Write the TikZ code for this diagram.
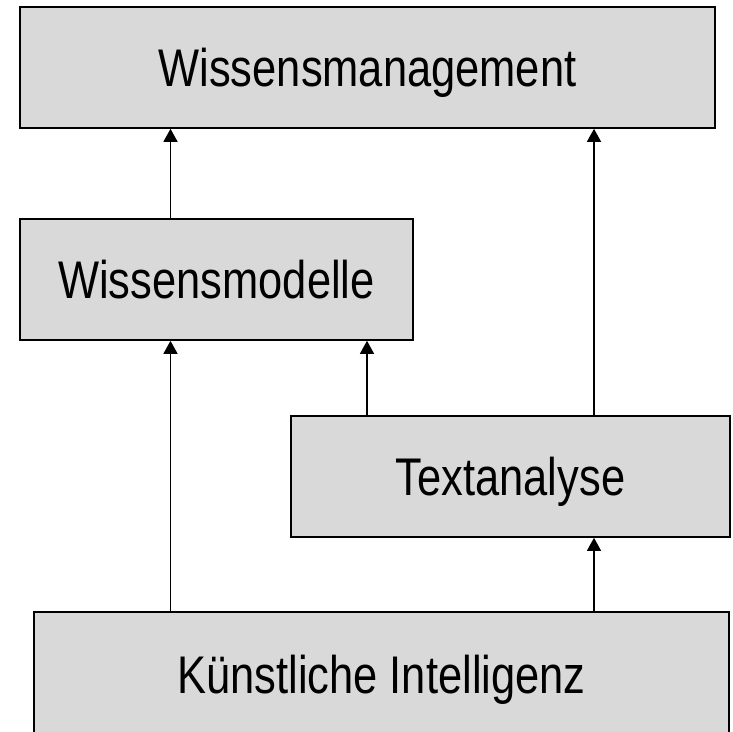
\documentclass[tikz,border=0pt]{standalone}
\usepackage{fontspec}
\setmainfont[FakeStretch=0.82]{Liberation Sans}
\usetikzlibrary{arrows.meta}
\definecolor{boxgray}{RGB}{217,217,217}
\tikzset{
  box/.style={draw=black, fill=boxgray, line width=1.6pt, inner sep=0pt, minimum height=121pt,
    text height=38pt, text depth=0pt, font=\fontsize{53}{60}\selectfont},
  arr/.style={line width=1.3pt, -{Triangle[length=13pt,width=14pt]}}
}
\begin{document}
\begin{tikzpicture}[x=1pt,y=-1pt]
\useasboundingbox (0,0) rectangle (733,731);
\path(367.5,67.5) node[box,minimum width=695pt](wm){Wissensmanagement} (216.5,279.5) node[box,minimum width=393pt](wmod){Wissensmodelle} (510.5,476.5) node[box,minimum width=439pt](ta){Textanalyse} (381.5,674) node[box,minimum width=695pt,minimum height=124pt](ki){Künstliche Intelligenz};
\coordinate (c1) at (170.5,0);
\coordinate (c2) at (367,0);
\coordinate (c3) at (594,0);

\draw[arr] (wmod.north -| c1) -- (wm.south -| c1);
\draw[arr] (ki.north -| c1) -- (wmod.south -| c1);
\draw[arr] (ta.north -| c2) -- (wmod.south -| c2);
\draw[arr] (ta.north -| c3) -- (wm.south -| c3);
\draw[arr] (ki.north -| c3) -- (ta.south -| c3);
\end{tikzpicture}
\end{document}
